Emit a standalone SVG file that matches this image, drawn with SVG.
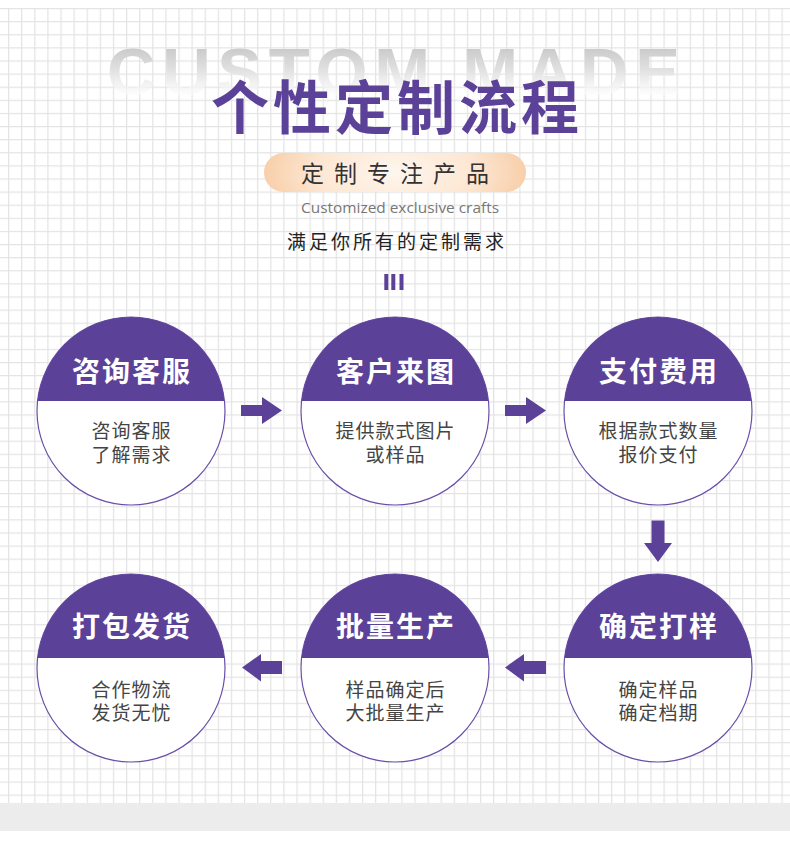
<svg xmlns="http://www.w3.org/2000/svg" width="790" height="841" viewBox="0 0 790 841">
<defs>
<pattern id="grid" x="8" y="8" width="13.11" height="13.11" patternUnits="userSpaceOnUse">
<path d="M0.6,0 V13.11 M0,0.6 H13.11" stroke="#e3e3e3" stroke-width="1.2" fill="none"/>
</pattern>
<linearGradient id="fade" x1="0" y1="44" x2="0" y2="98" gradientUnits="userSpaceOnUse">
<stop offset="0" stop-color="#c6c6c6"/>
<stop offset="0.5" stop-color="#e2e2e2"/>
<stop offset="1" stop-color="#ffffff" stop-opacity="0.6"/>
</linearGradient>
<radialGradient id="pill" cx="0.5" cy="0.5" r="0.5" fx="0.5" fy="0.5" gradientTransform="translate(0.5 0.5) scale(1 3.2) translate(-0.5 -0.5)">
<stop offset="0" stop-color="#fef6ee"/>
<stop offset="0.6" stop-color="#fde7d3"/>
<stop offset="1" stop-color="#f8cfaa"/>
</radialGradient>
</defs>
<style>
.cjk{font-family:"Noto Sans CJK SC","Noto Sans",sans-serif}
.ring{fill:#ffffff;stroke:#6a4fa8;stroke-width:1.2}
.cap{fill:#5c4198}
.ttl{font-family:"Noto Sans CJK SC",sans-serif;font-weight:700;font-size:28px;fill:#ffffff;letter-spacing:2px;text-anchor:middle}
.body{font-family:"Noto Sans CJK SC",sans-serif;font-size:19px;fill:#444444;letter-spacing:1px;text-anchor:middle}
.arrow{fill:#5c4198}
</style>
<rect x="0" y="0" width="790" height="841" fill="#ffffff"/>
<rect x="0" y="8" width="790" height="795" fill="url(#grid)"/>
<rect x="0" y="803" width="790" height="28" fill="#ececec"/>

<g id="header">
<text x="107" y="95" font-family="Liberation Sans, Arial, sans-serif" font-weight="700" font-size="67" fill="url(#fade)" textLength="573" lengthAdjust="spacing">CUSTOM MADE</text>
<text x="211" y="129" class="cjk" font-weight="700" font-size="58" fill="#5c4198" letter-spacing="4">个性定制流程</text>
<rect x="264" y="153" width="262" height="39" rx="19.5" fill="url(#pill)"/>
<text x="301" y="181.5" class="cjk" font-size="23" fill="#333333" letter-spacing="10">定制专注产品</text>
<text x="301" y="212.5" font-family="Open Sans, Liberation Sans, sans-serif" font-size="15" fill="#777777" textLength="198" lengthAdjust="spacingAndGlyphs">Customized exclusive crafts</text>
<text x="287" y="248.5" class="cjk" font-size="19" fill="#222222" letter-spacing="3">满足你所有的定制需求</text>
<rect x="384.3" y="274" width="4" height="16" fill="#5c4198"/>
<rect x="391.3" y="274" width="4" height="16" fill="#5c4198"/>
<rect x="399.5" y="274" width="4" height="16" fill="#5c4198"/>
</g>

<g id="step1">
<circle class="ring" cx="131" cy="411" r="94"/>
<path class="cap" d="M37.53,401 A94,94 0 0 1 224.47,401 Z"/>
<text class="ttl" x="132" y="382">咨询客服</text>
<text class="body" x="131.5" y="438">咨询客服</text>
<text class="body" x="131.5" y="462">了解需求</text>
</g>
<g id="step2">
<circle class="ring" cx="395" cy="411" r="94"/>
<path class="cap" d="M301.53,401 A94,94 0 0 1 488.47,401 Z"/>
<text class="ttl" x="396" y="382">客户来图</text>
<text class="body" x="395.5" y="438">提供款式图片</text>
<text class="body" x="395.5" y="462">或样品</text>
</g>
<g id="step3">
<circle class="ring" cx="658" cy="411" r="94"/>
<path class="cap" d="M564.53,401 A94,94 0 0 1 751.47,401 Z"/>
<text class="ttl" x="659" y="382">支付费用</text>
<text class="body" x="658.5" y="438">根据款式数量</text>
<text class="body" x="658.5" y="462">报价支付</text>
</g>
<g id="step4">
<circle class="ring" cx="658" cy="668" r="94"/>
<path class="cap" d="M564.53,658 A94,94 0 0 1 751.47,658 Z"/>
<text class="ttl" x="659" y="637">确定打样</text>
<text class="body" x="658.5" y="697">确定样品</text>
<text class="body" x="658.5" y="720">确定档期</text>
</g>
<g id="step5">
<circle class="ring" cx="395" cy="668" r="94"/>
<path class="cap" d="M301.53,658 A94,94 0 0 1 488.47,658 Z"/>
<text class="ttl" x="396" y="637">批量生产</text>
<text class="body" x="395.5" y="697">样品确定后</text>
<text class="body" x="395.5" y="720">大批量生产</text>
</g>
<g id="step6">
<circle class="ring" cx="131" cy="668" r="94"/>
<path class="cap" d="M37.53,658 A94,94 0 0 1 224.47,658 Z"/>
<text class="ttl" x="132" y="637">打包发货</text>
<text class="body" x="131.5" y="697">合作物流</text>
<text class="body" x="131.5" y="720">发货无忧</text>
</g>

<g id="connectors">
<path class="arrow" d="M241,405 H262 V397 L282,410.5 L262,424 V416 H241 Z"/>
<path class="arrow" d="M505,405 H526 V397 L546,410.5 L526,424 V416 H505 Z"/>
<path class="arrow" d="M651.5,520.5 H664.5 V543 H672 L658,562 L644,543 H651.5 Z"/>
<path class="arrow" d="M546,661 H524 V654 L505,667.5 L524,681.5 V674 H546 Z"/>
<path class="arrow" d="M282,661 H261 V654 L242,667.5 L261,681.5 V674 H282 Z"/>
</g>
</svg>
